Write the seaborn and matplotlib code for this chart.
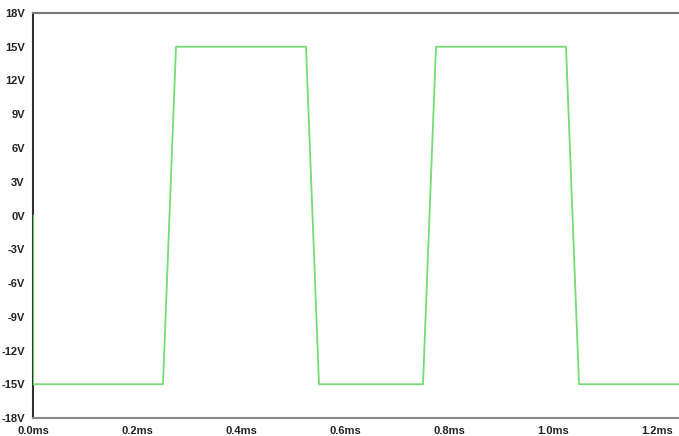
import pandas as pd
import seaborn as sns
import matplotlib.pyplot as plt

# waveform corners (time in ms, voltage in V)
time_ms = [0.0, 0.0, 0.25, 0.275, 0.525, 0.55, 0.75, 0.775, 1.025, 1.05, 1.242]
volts = [0, -15, -15, 15, 15, -15, -15, 15, 15, -15, -15]
y_ticks = [-18, -15, -12, -9, -6, -3, 0, 3, 6, 9, 12, 15, 18]
x_ticks = [0.0, 0.2, 0.4, 0.6, 0.8, 1.0, 1.2]

df = pd.DataFrame({'t': time_ms, 'v': volts})

sns.set_style('white')
plt.rcParams['font.family'] = ['Liberation Sans', 'DejaVu Sans']

fig = plt.figure(figsize=(6.79, 4.36), dpi=100)
ax = fig.add_axes([33 / 679, 18 / 436, 646 / 679, 405 / 436])

# estimator=None so the two points at t=0 are kept as they are
sns.lineplot(data=df, x='t', y='v', sort=False, estimator=None,
             color='#74dc74', linewidth=1.3, ax=ax, zorder=3)

ax.set_xlim(0, 646 / 520)
ax.set_ylim(-18, 18)
ax.set_xticks(x_ticks)
ax.set_xticklabels([f'{x:.1f}ms' for x in x_ticks])
ax.set_yticks(y_ticks)
ax.set_yticklabels([f'{y}V' for y in y_ticks])
ax.set_xlabel('')
ax.set_ylabel('')

ax.spines['right'].set_visible(False)
ax.spines['left'].set_color('#333333')
ax.spines['top'].set_color('#777777')
ax.spines['bottom'].set_color('#888888')
for s in ['left', 'top', 'bottom']:
    ax.spines[s].set_linewidth(1.5)

ax.tick_params(axis='both', direction='out', length=5, width=1, colors='#222222',
               labelsize=8, pad=1)
for lbl in ax.get_xticklabels() + ax.get_yticklabels():
    lbl.set_fontweight('bold')

fig.savefig('out.png', dpi=100)
